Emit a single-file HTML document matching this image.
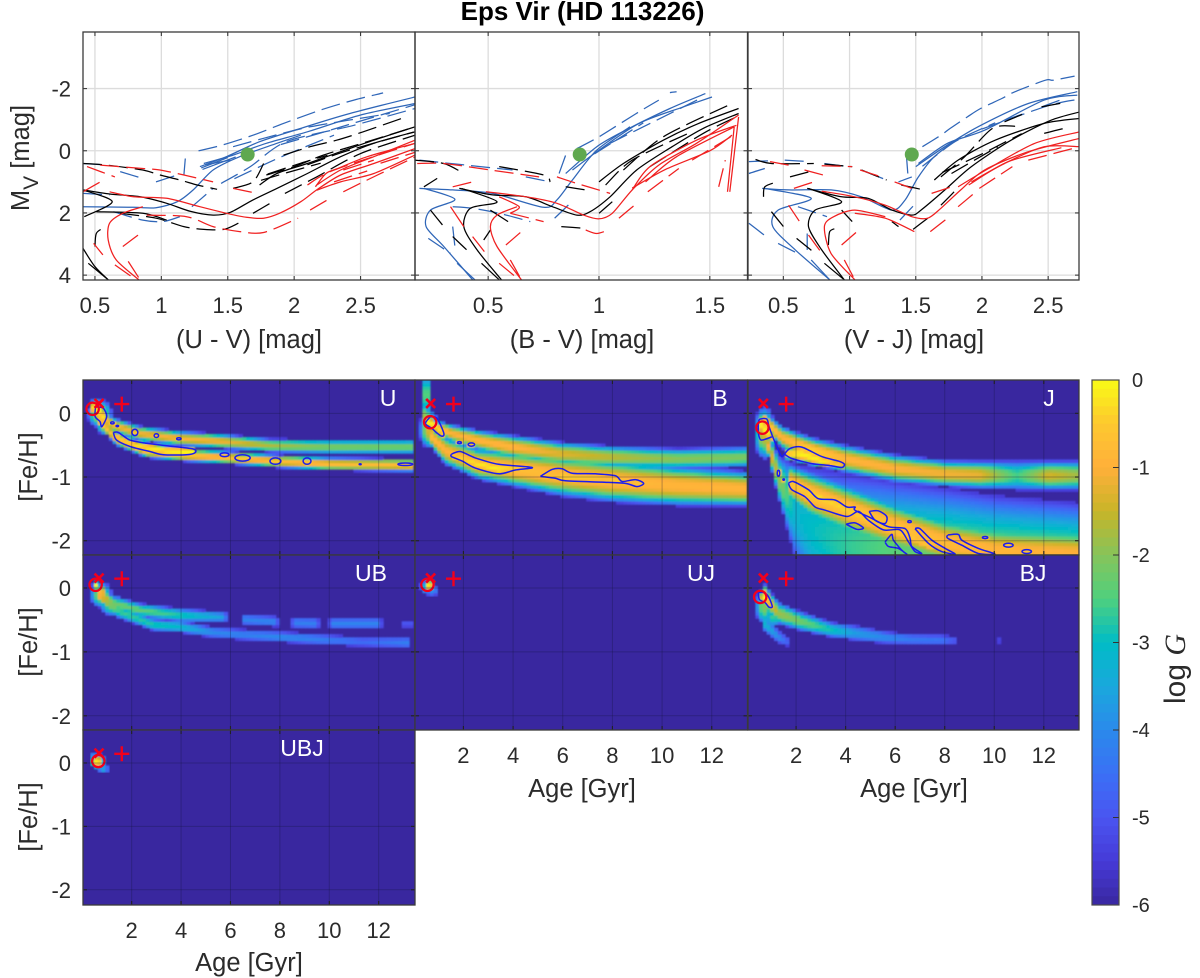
<!DOCTYPE html>
<html lang="en">
<head>
<meta charset="utf-8">
<title>Eps Vir (HD 113226)</title>
<style>
html,body{margin:0;padding:0;background:#fff;}
#chart{display:block;width:1200px;height:978px;font-family:"Liberation Sans",Arial,sans-serif;fill:#2b2b2b;}
</style>
</head>
<body>
<svg id="chart" xmlns="http://www.w3.org/2000/svg" width="1200" height="978" viewBox="0 0 1200 978">
  <defs>
    <filter id="soft" x="-2%" y="-2%" width="104%" height="104%"><feGaussianBlur stdDeviation="0.8"/></filter>
  </defs>
  <rect x="0" y="0" width="1200" height="978" fill="#ffffff"/>
  <text x="582.5" y="20" text-anchor="middle" font-size="26" font-weight="700" fill="#000">Eps Vir (HD 113226)</text>
  <g id="layer"></g>
  <text x="249" y="348" text-anchor="middle" font-size="25.5">(U - V) [mag]</text>
  <text x="582" y="348" text-anchor="middle" font-size="25.5">(B - V) [mag]</text>
  <text x="914" y="348" text-anchor="middle" font-size="25.5">(V - J) [mag]</text>
  <text transform="translate(29,158) rotate(-90)" text-anchor="middle" font-size="25.5">M<tspan font-size="21" dy="9">V</tspan><tspan dy="-9"> [mag]</tspan></text>
  <text transform="translate(37,467) rotate(-90)" text-anchor="middle" font-size="25.5">[Fe/H]</text>
  <text transform="translate(37,642) rotate(-90)" text-anchor="middle" font-size="25.5">[Fe/H]</text>
  <text transform="translate(37,817) rotate(-90)" text-anchor="middle" font-size="25.5">[Fe/H]</text>
  <text x="249" y="971" text-anchor="middle" font-size="25.5">Age [Gyr]</text>
  <text x="582" y="797" text-anchor="middle" font-size="25.5">Age [Gyr]</text>
  <text x="914" y="797" text-anchor="middle" font-size="25.5">Age [Gyr]</text>
  <text transform="translate(1185,669) rotate(-90)" text-anchor="middle" font-size="30">log <tspan font-family="'Liberation Serif',serif" font-style="italic">G</tspan></text>
</svg>
<script>
/* ---------- axis tick values ---------- */
const uvTicks = [0.5, 1, 1.5, 2, 2.5];
const bvTicks = [0.5, 1, 1.5];
const vjTicks = [0.5, 1, 1.5, 2, 2.5];
const mvTicks = [-2, 0, 2, 4];
const ageTicks = [2, 4, 6, 8, 10, 12];
const fehTicks = [0, -1, -2];
const colorTicks = [0, -1, -2, -3, -4, -5, -6];

/* ---------- observed star colours and magnitude ---------- */
const starUV = [1.65, 0.12];
const starBV = [0.913, 0.12];
const starVJ = [1.47, 0.12];

/* ---------- isochrones: flat colour, Mv pairs ---------- */
const uvBlueSolid = [
 [1.29,.51,1.49,.19,1.74,-.29,2.05,-.72,2.42,-1.2,2.91,-1.73],
 [1.32,.41,1.54,.14,1.79,-.24,2.1,-.61,2.5,-1.15,2.91,-1.52],
 [.41,1.8,.79,1.82,.96,1.83,1.12,1.64,1.24,1.26,1.39,.62,1.59,.19,1.87,-.24,2.05,-.5],
 [1.3,.55,1.5,.22],[1.33,.45,1.52,.3],[1.31,.6,1.56,.2]
];
const uvBlueDash = [
 [1.28,0,1.44,-.16,1.69,-.5,1.92,-.88,2.2,-1.31,2.45,-1.63,2.67,-1.86],
 [1.54,-.13,1.77,-.4,2.12,-.77,2.72,-1.2],
 [1.45,1.05,1.67,.51,1.94,-.29,2.45,-.82,2.91,-1.36],
 [1.55,.9,1.9,.2,2.3,-.5],[1.9,-.2,2.3,-.7,2.91,-1.48],
 [.41,.41,.59,.46],[.69,.67,.86,.89],[.96,1,1.12,.78],[1.18,.25,1.17,.78],
 [1.23,1.8,1.39,1.21],[.41,1.37,.61,1.42],[.64,1.96,.86,2.23,1.01,2.28,1.14,2.12]
];
const uvBlackSolid = [
 [.41,1.26,.61,1.39,.84,1.48,1.04,1.69,1.22,1.95,1.39,2.07,1.52,1.98,1.69,1.58,1.87,1.21,2.1,.73,2.35,.19,2.6,-.24,2.91,-.61],
 [1.74,1.1,1.87,.73,2.1,.41,2.35,.03,2.6,-.34,2.91,-.77],
 [.41,1.26,.63,1.64,.42,2.12],[.51,1.96,.86,2.01,1.04,2.23],
 [.41,3.14,.5,3.73,.6,4.15],[.45,3.62,.6,4.15]
];
const uvBlackDash = [
 [.41,.41,.59,.46,.86,.62,.99,.78,1.14,.94,1.27,1.1,1.42,1.24],
 [1.54,1.21,1.69,1,1.77,.41],
 [1.92,.14,2.12,-.13,2.32,-.34,2.52,-.61,2.81,-1.04],
 [1.79,.78,2,.51,2.22,.14,2.55,-.29,2.91,-.77],
 [1.69,2.01,1.84,1.64],
 [1.93,1.37,2.17,.84,2.5,.09,2.91,-.5],
 [1.8,.75,2.05,.4,2.25,.15],[1.75,.95,1.95,.7,2.2,.4],[2.1,.45,2.4,0,2.9,-.6],
 [.69,2.01,.96,2.17,1.17,2.44,1.32,2.53,1.47,2.53,1.58,2.33],
 [.5,3.08,.51,2.66,.56,2.49]
];
const uvRedSolid = [
 [.83,4.15,.66,3.51,.6,2.87,.61,2.33,.71,2.01,.86,1.8],
 [.61,1.32,.79,1.48,1.04,1.53,1.29,1.8,1.49,2.01,1.64,2.14,1.77,2.17,1.89,2.01,2.05,1.64,2.17,1.26,2.35,.78,2.6,.41,2.91,-.07],
 [2.17,1.1,2.35,.62,2.6,.19,2.91,-.34],
 [2.16,1.16,2.24,.73,2.33,.57,2.55,.19,2.91,-.24],
 [2.17,1.27,2.35,1,2.6,.73,2.91,.14]
];
const uvRedDash = [
 [.54,.46,.86,.57,.99,.62,1.17,.78,1.39,1],
 [.44,.51,.65,.84],[1.54,1.21,1.72,1.37],
 [.89,2.07,1.19,2.12,1.39,2.44,1.59,2.6,1.77,2.63,2.03,2.17],
 [2.12,1.91,2.27,1.53],[.71,3.08,.85,2.63],[.65,3.67,.81,4.15],[.75,3.56,.84,4.15],
 [.49,2.98,.56,3.35],[.41,1.32,.54,1],[2.1,1.1,2.3,.62,2.91,-.24],[2.37,1.32,2.55,.94,2.91,.2],
 [2.37,.62,2.6,.3],[2.65,.4,2.91,.05],[2.3,1,2.55,.65]
];

const bvBlueSolid = [
 [.85,.73,.99,-.13,1.12,-.66,1.32,-1.36,1.48,-1.84],
 [.88,.62,1,-.02,1.18,-.88,1.38,-1.41,1.51,-1.73],
 [.19,1.21,.34,1.26,.52,1.37,.75,1.82,.81,1.58,.88,.94,.99,-.02,1.14,-.77],
 [.21,1.21,.35,1.56,.24,1.91,.22,2.44,.3,3.08,.43,4.15],
 [.36,3.62,.44,4.15]
];
const bvBlueDash = [
 [.9,-.07,1,-.45,1.18,-1.25,1.27,-1.63],[1.32,-1.87,1.35,-1.9],
 [.19,.3,.33,.41,.61,.62],[.67,.84,.78,1],[.82,.73,.85,.14],
 [.34,1.8,.43,1.85,.55,2.01,.69,2.28],[.8,2.17,.87,1.69],[.23,2.82,.33,3.3],
 [.34,2.44,.35,3.08],[1.05,-.24,1.47,-1.73],[.98,.1,1.2,-.9]
];
const bvBlackSolid = [
 [.37,1.21,.52,1.42,.67,1.48,.79,1.8,.9,2.07,.96,1.96,1.05,1.48,1.17,.62,1.33,-.13,1.47,-.72,1.63,-1.2],
 [1,1,1.11,.41,1.29,-.34,1.45,-.88,1.63,-1.36],
 [.38,1.21,.54,1.64,.42,1.85,.39,2.44,.45,3.19,.56,4.15],
 [.51,1.91,.59,2.28],[.47,3.62,.55,4.15]
];
const bvBlackDash = [
 [.17,.3,.3,.41,.39,.73],[.55,.51,.75,.78,.78,1],[.85,1.16,.94,1.26],[1,2.01,1.06,1.64],
 [.24,1.91,.3,2.44],[.21,1.16,.27,.89],[.83,2.44,.93,2.49],
 [1.11,.62,1.29,-.45,1.6,-1.52],[1.23,.51,1.47,-.56,1.62,-1.09],
 [.34,2.76,.42,3.3],[.48,2.87,.51,2.55],[1.03,1.1,1.15,.3,1.4,-.55]
];
const bvRedSolid = [
 [.49,1.32,.67,1.48,.81,1.69,.93,2.07,1,2.19,1.06,2.01,1.15,1.26,1.27,.46,1.44,-.24,1.63,-1.15],
 [.65,4.15,.54,3.08,.51,2.44,.54,2.07,.63,1.8],
 [1.15,1.26,1.23,.51,1.44,-.34,1.62,-.82],
 [1.21,1,1.35,.19,1.61,-.77],
 [1.15,1.2,1.3,.6,1.5,0,1.6,-.5],
 [1.63,-1.09,1.59,1.32],[1.61,-.77,1.58,1.32],
 [.33,1.8,.39,2.44],[.55,1.48,.64,1.8,.6,2.01]
];
const bvRedDash = [
 [.18,.41,.3,.41,.51,.62,.73,.84],[.81,.84,.9,1.05,1.05,1.37],[.34,1.16,.43,1],
 [1.09,2.17,1.17,1.69],[.6,2.01,.75,2.28],[.94,2.55,.99,2.66,1.05,2.53],
 [.58,3.03,.65,2.6],[.43,2.76,.5,3.4],[.55,3.62,.64,4.15],[.6,3.51,.65,4.15],
 [1.22,1.32,1.36,.57],[1.54,1.16,1.57,.3],[1.42,.3,1.62,-.56]
];

const vjBlueSolid = [
 [1.5,.51,1.72,-.13,1.97,-.77,2.35,-1.52,2.72,-1.9],
 [1.52,.41,1.74,-.24,2.02,-.66,2.47,-1.63,2.72,-1.79],
 [.34,1.21,.54,1.26,.86,1.26,1.09,1.48,1.32,1.91,1.42,1.58,1.52,.84,1.64,.19,1.84,-.45],
 [.36,1.21,.71,1.53,.46,1.91,.42,2.44,.59,3.19,.85,4.15],
 [.71,3.51,.85,4.15]
];
const vjBlueDash = [
 [1.55,-.13,1.69,-.5,1.76,-.72,1.89,-1.09,1.99,-1.36,2.15,-1.68,2.25,-1.9,2.48,-2.27,2.54,-2.27,2.7,-2.4],
 [.24,.73,.36,.57],[.24,.35,.41,.32],[.24,2.33,.37,2.76],[.46,2.98,.63,3.35],
 [.68,2.66,.68,3.19],[1.38,2.23,1.5,1.69],[1.43,.19,1.44,.73],[.61,1.8,.83,2.12],
 [1.37,1,1.47,.84],[.51,.3,.69,.35],[.81,.41,.99,.51],[1.12,.67,1.28,.94],
 [2.45,-1.41,2.59,-1.63],[2.17,-.98,2.32,-1.2],[1.55,.5,1.8,-.3,2.1,-.9],[2,-.7,2.5,-1.45,2.72,-1.65]
];
const vjBlackSolid = [
 [.68,1.21,.94,1.48,1.14,1.53,1.32,1.91,1.47,2.07,1.54,1.91,1.72,1.26,1.92,.51,2.22,-.34,2.52,-.98,2.74,-1.25],
 [1.64,.94,1.82,.3,2.1,-.34,2.47,-.88,2.74,-1.04],
 [.69,1.21,.94,1.64,.74,1.91,.69,2.44,.79,3.19,.96,4.15],
 [.81,3.62,.96,4.15],[.94,1.91,1.02,2.28]
];
const vjBlackDash = [
 [.29,.28,.41,.41,.73,.41],[.81,.43,1.02,.51],[1.09,.62,1.28,.94],[.55,.84,.7,.67],
 [.35,1.48,.36,1.16,.45,1],[.41,1.96,.51,2.49],[.6,2.82,.74,3.3],[.84,3.03,.85,2.6,.9,2.49],
 [1.39,1.1,1.54,1.24],[1.32,2.28,1.37,2.44],[1.48,2.53,1.59,2.17],[1.69,1.75,1.79,1.32],
 [1.69,.84,1.87,.19,2.08,-.72,2.25,-.79],[1.77,.73,2.12,-.13],[2.47,-.56,2.62,-.72],
 [2.17,-.93,2.32,-1.2],[2.45,-1.41,2.61,-1.54],[1.7,.7,2,.1,2.3,-.55]
];
const vjRedSolid = [
 [.79,1.3,1.04,1.48,1.27,1.75,1.47,2.12,1.59,2.17,1.69,1.85,1.84,1.26,2.02,.62,2.35,.03,2.74,-.4],
 [1.04,4.15,.86,3.3,.81,2.44,.88,2.12,1.04,1.91,1.27,2.12],
 [1.82,1.16,2.05,.57,2.4,-.24,2.74,-.61],
 [1.92,1,2.17,.41,2.47,-.13,2.74,-.13],
 [1.9,1.1,2.2,.35,2.6,-.1],
 [1.04,2.01,1.27,2.17,1.49,2.6]
];
const vjRedDash = [
 [.4,.35,.54,.46],[.79,.48,1.02,.51],[1.08,.62,1.24,.84],[1.34,1,1.47,1.21],[.66,.62,.8,.78],
 [.58,1.21,.73,1],[.54,1.75,.63,2.33],[.69,2.71,.8,3.35],[.94,3.03,1.07,2.55],[.96,3.51,1.04,4.15],
 [1.61,2.6,1.74,2.17],[1.82,1.8,1.94,1.37],[1.98,1.21,2.23,.51],[2.35,.3,2.74,-.13],[1.62,1.37,1.77,1.16]
];

/* ---------- colour scale: log G value and colour at the same index ---------- */
const scaleValues = [0,-.5,-1,-1.5,-2,-2.5,-3,-3.5,-4,-4.5,-5,-5.5,-6];
const scaleReds   = [249,253,255,200,134,79,0,26,43,58,74,70,57];
const scaleGreens = [251,200,176,180,196,208,188,168,138,112,85,58,39];
const scaleBlues  = [21,47,58,40,90,126,198,220,235,245,240,216,159];

/* ---------- likelihood ridges: rows of age, [Fe/H], half-width, peak log G ---------- */
const uUpper = [[.4,.1,.1,-.4],[.45,.05,.12,-.4],[1.26,-.18,.1,-1.1],[2.34,-.31,.1,-1.1],[3.95,-.39,.1,-1],[5.57,-.43,.1,-1.1],[7.6,-.5,.09,-1.7],[10,-.52,.1,-2.1],[13.4,-.52,.1,-2.2]];
const uLower = [[.58,-.08,.08,-.5],[1.39,-.39,.1,-.8],[2.6,-.58,.1,-.6],[4.2,-.65,.09,-.6],[5.57,-.68,.09,-.8],[8,-.75,.09,-.8],[10,-.79,.09,-.8],[13.45,-.81,.09,-.8]];
const uHot = [[1.39,-.36,.08,-.5],[1.93,-.47,.08,-.4],[2.61,-.53,.08,-.2],[3.42,-.58,.08,-.05],[4.49,-.6,.08,0]];
const uTip = [[.45,.1,.14,-.1],[.7,.05,.14,-.05],[.9,-.08,.12,-.3],[1,-.15,.09,-1]];
const uBlobs = [[.7,0,.5,.22,-1.3],[1,-.18,.45,.16,-1.2]];

const bUpper = [[.74,-.18,.08,-.5],[1.54,-.31,.12,-1],[2.62,-.42,.14,-.9],[3.96,-.52,.16,-.9],[5.97,-.63,.16,-1.3],[7.99,-.68,.15,-1.6],[10.67,-.71,.14,-2],[13.45,-.68,.14,-2.1]];
const bLower = [[.6,-.31,.15,-.7],[1.28,-.58,.2,-1],[2.62,-.79,.22,-.7],[3.96,-.86,.25,-.7],[5.97,-.97,.29,-.8],[7.99,-1.05,.3,-.8],[10.67,-1.13,.28,-.9],[13.45,-1.18,.24,-.9]];
const bColumn = [[.33,.3,.28,-2.5],[.62,.3,.28,-2.5]];
const bStem = [[.42,-.05,.2,-1.8],[.75,-.2,.2,-1.2]];
const bTip = [[.55,-.12,.11,0],[.9,-.2,.1,-.2],[1.2,-.33,.07,-.4]];
const bHotA = [[1.55,-.66,.08,-.5],[2.5,-.78,.1,-.2],[3.42,-.87,.1,-.1],[4.7,-.85,.03,-.8]];
const bHotB = [[5.2,-.99,.05,-.7],[6,-.98,.11,-.4],[7.3,-1.01,.08,-.5],[8.3,-1.05,.07,-.5],[9.2,-1.1,.05,-.6]];
const bBlobs = [[.62,-.25,.4,.3,-1.3]];

const jUpper = [[.61,-.05,.1,-.3],[1.42,-.37,.15,-1],[2.63,-.58,.18,-.4],[3.98,-.71,.19,-.9],[6,-.86,.19,-1],[8.02,-.94,.18,-1.1],[9.4,-.96,.19,-1.2],[10.9,-.97,.2,-2.6],[12.2,-.97,.2,-1.4],[13.45,-.97,.2,-1.8]];
const jWedge = [[.75,-.35,.12,-.8],[1.29,-.99,.29,-1.8],[1.96,-1.53,.64,-3.2],[2.63,-1.81,.84,-3],[3.98,-2.07,.99,-2.7],[6,-2.13,.93,-2.4],[8.02,-2.18,.88,-2.3],[10.03,-2.24,.83,-2.3],[13.45,-2.29,.77,-2.3]];
const jRidge = [[1.69,-1.07,.25,-.7],[2.63,-1.28,.33,-.6],[3.98,-1.49,.35,-.6],[6,-1.78,.35,-.7],[8.02,-2.02,.35,-.8],[10.03,-2.15,.35,-.9],[13.45,-2.2,.35,-1]];
const jTip = [[.5,-.1,.13,-.2],[.65,-.22,.16,0],[.9,-.3,.13,-.2],[1.1,-.42,.06,-1.2]];
const jHotA = [[1.55,-.62,.08,-.4],[2.2,-.63,.13,-.05],[3,-.73,.1,-.1],[3.9,-.82,.05,-.7]];
const jHotB = [[1.75,-1.12,.08,-.7],[2.9,-1.3,.12,-.3],[4,-1.5,.12,-.4],[5,-1.68,.12,-.5],[6,-1.85,.11,-.6],[7.5,-2.08,.12,-.6]];
const jBlobs = [[.72,-.3,.42,.42,-1.3]];

const ubUpper = [[.58,-.03,.1,-.5],[1.26,-.23,.1,-2.2],[2.34,-.34,.09,-2.3],[3.95,-.42,.09,-2.8],[5.7,-.45,.07,-3.6],[5.95,-.46,.06,-5.6],[6.4,-.48,.06,-5.6],[6.55,-.49,.07,-4.1],[7.8,-.52,.07,-4.1],[8,-.53,.06,-5.6],[8.4,-.54,.06,-5.6],[8.6,-.54,.07,-4.2],[9.45,-.55,.07,-4.2],[9.65,-.55,.06,-5.6],[9.95,-.55,.06,-5.6],[10.1,-.55,.07,-4.1],[12,-.55,.07,-4.1],[12.15,-.55,.06,-5.6],[12.9,-.56,.06,-5.6],[13,-.56,.04,-5],[13.45,-.56,.04,-5]];
const ubLower = [[.58,-.08,.1,-.6],[1.39,-.34,.1,-2.6],[2.88,-.57,.08,-2.8],[3.95,-.6,.08,-3.1],[5.3,-.69,.07,-4],[6.65,-.73,.07,-4.2],[8,-.76,.07,-4],[9.6,-.8,.07,-4.2],[11.37,-.84,.06,-4.6],[13.25,-.85,.07,-4.2]];
const ubBlobs = [[.56,.05,.16,.07,0],[.8,-.04,.2,.1,-.9],[.75,-.1,.45,.2,-1.8],[1.25,-.27,.55,.16,-2.1]];

const bjMain = [[.68,.03,.08,-2.5],[.75,-.13,.15,-.4],[1.29,-.39,.15,-1.8],[2.23,-.52,.13,-2.2],[3.44,-.65,.1,-2.9],[4.38,-.7,.1,-3.7],[5.59,-.77,.08,-4],[6.67,-.8,.07,-4.3],[7.88,-.81,.07,-4.4],[8.42,-.82,.05,-5]];
const bjLow = [[.61,-.5,.12,-3],[1.29,-.76,.08,-4],[1.76,-.86,.05,-5]];
const bjBlobs = [[.72,-.14,.26,.12,0],[.95,-.24,.14,.07,-.3],[.72,-.28,.38,.28,-2],[1.1,-.45,.4,.15,-2.6],[10.13,-.82,.1,.04,-5.2]];

const ujBlobs = [[.72,-.03,.3,.09,-4],[.45,.02,.2,.1,-3.2],[.62,.05,.24,.1,0]];
const ubjBlobs = [[.42,.07,.16,.1,-3.5],[.61,.03,.32,.12,-.05],[.85,-.09,.22,.07,-3.5]];

/* ---------- contour rings: age, [Fe/H] pairs ---------- */
const uContours = [
 [1.26,-.3,1.46,-.3,1.93,-.42,2.61,-.47,3.42,-.51,4.49,-.56,4.56,-.62,4.22,-.65,3.28,-.65,2.74,-.6,1.93,-.52,1.39,-.42,1.26,-.3],
 [.54,.1,.85,.08,.99,-.05,.79,-.21,.72,-.13,.52,-.05,.54,.1]
];
const bContours = [
 [.67,-.05,.94,-.08,1.21,-.31,1.14,-.36,.94,-.31,.74,-.24,.47,-.16,.67,-.05],
 [1.52,-.64,1.88,-.6,2.48,-.7,3.42,-.8,4.77,-.85,4.09,-.89,3.42,-.95,2.48,-.86,1.95,-.75,1.52,-.68,1.52,-.64],
 [5.1,-.99,5.57,-.88,5.97,-.87,6.38,-.94,7.32,-.95,8.12,-.98,8.39,-1.07,8.93,-1.04,9.26,-1.1,8.99,-1.15,8.52,-1.1,7.58,-1.08,6.11,-1.06,5.7,-1.02,5.1,-.99]
];
const jContours = [
 [.48,-.13,.55,-.09,.82,-.09,.91,-.21,1.08,-.39,1.29,-.58,1.42,-.68,1.53,-.64,1.76,-.55,2.23,-.53,3.04,-.68,3.71,-.75,3.95,-.8,3.84,-.85,3.37,-.82,2.63,-.79,1.83,-.71,1.53,-.64],
 [.48,-.13,.48,-.31,.59,-.42,1.02,-.37],
 [1.69,-1.1,1.89,-1.07,2.5,-1.2,2.9,-1.34,3.57,-1.36,4.05,-1.47,4.38,-1.47,4.38,-1.52,5.06,-1.65,5.73,-1.78,6.4,-1.81,6.6,-1.96,6.67,-2.09,7.07,-2.2,6.8,-2.17,6.54,-2.02,6.2,-1.83,5.53,-1.83,4.92,-1.68,4.52,-1.54,4.05,-1.62,3.17,-1.52,2.77,-1.47,2.36,-1.31,1.83,-1.2,1.69,-1.1],
 [4.95,-1.54,5.32,-1.53,5.66,-1.62,5.59,-1.73,5.19,-1.68,4.95,-1.54],
 [4.02,-1.74,4.38,-1.72,4.72,-1.8,4.45,-1.82,4.02,-1.74],
 [5.59,-2.02,5.86,-1.9,5.93,-1.99,6.27,-2.15,6.47,-2.21,6.13,-2.12,5.73,-2.09,5.59,-2.02],
 [6.8,-1.81,7,-1.81,7.48,-1.99,8.02,-2.12,8.42,-2.21,7.88,-2.17,7.34,-2.04,6.8,-1.81],
 [8.12,-1.91,8.55,-1.9,8.69,-1.99,9.36,-2.12,10.03,-2.21,9.36,-2.2,8.69,-2.07,8.12,-1.96,8.12,-1.91]
];
const bjContours = [
 [.48,-.07,.68,-.07,.88,-.13,1.04,-.29,.91,-.3,.75,-.23,.52,-.18,.48,-.07]
];

/* ---------- contour islands: age, [Fe/H], age radius, [Fe/H] radius ---------- */
const uIslands = [[2.13,-.3,.12,.05],[3,-.35,.09,.03],[3.91,-.4,.09,.016],[1.22,-.15,.07,.016],[1.42,-.2,.05,.01],[5.76,-.65,.18,.03],[6.49,-.7,.31,.05],[7.82,-.75,.22,.05],[9.1,-.75,.16,.05],[11.25,-.8,.04,.008],[13.08,-.8,.3,.02]];
const bIslands = [[1.84,-.46,.08,.016],[2.32,-.49,.13,.026]];
const jIslands = [[1.29,-.94,.05,.047],[1.5,-1.04,.03,.01],[6.58,-1.7,.07,.016],[9.63,-1.95,.11,.016],[10.57,-2.07,.19,.03],[11.31,-2.17,.19,.03]];
const noIslands = [];

/* ---------- best-fit circle, x and plus markers: age, [Fe/H] ---------- */
const uBest = [.42,.07];
const bBest = [.66,-.14];
const jBest = [.64,-.225];
const ubBest = [.54,.05];
const ujBest = [.55,.05];
const bjBest = [.55,-.14];
const ubjBest = [.65,.03];
const crossMark = [.68,.155];
const plusMark = [1.6,.145];

/* ---------- helpers ---------- */
const layer = document.getElementById('layer');
const NS = 'http://www.w3.org/2000/svg';
function mk(tag, parent, attrs) {
  const el = document.createElementNS(NS, tag);
  for (const k in attrs) el.setAttribute(k, attrs[k]);
  parent.appendChild(el);
  return el;
}
function linear(d0, d1, r0, r1) {
  return v => r0 + (v - d0) * (r1 - r0) / (d1 - d0);
}
function smoothPath(tr, sx, sy) {
  const pts = [];
  for (let i = 0; i < tr.length; i += 2) pts.push([sx(tr[i]), sy(tr[i + 1])]);
  let d = 'M' + pts[0][0].toFixed(1) + ' ' + pts[0][1].toFixed(1);
  for (let i = 0; i < pts.length - 1; i++) {
    const p0 = pts[Math.max(0, i - 1)], p1 = pts[i], p2 = pts[i + 1], p3 = pts[Math.min(pts.length - 1, i + 2)];
    const k = 1 / 7;
    d += 'C' + (p1[0] + (p2[0] - p0[0]) * k).toFixed(1) + ' ' + (p1[1] + (p2[1] - p0[1]) * k).toFixed(1) + ' ' +
         (p2[0] - (p3[0] - p1[0]) * k).toFixed(1) + ' ' + (p2[1] - (p3[1] - p1[1]) * k).toFixed(1) + ' ' +
         p2[0].toFixed(1) + ' ' + p2[1].toFixed(1);
  }
  return d;
}
function colorOf(v) {
  if (v >= 0) return 'rgb(' + scaleReds[0] + ',' + scaleGreens[0] + ',' + scaleBlues[0] + ')';
  let i = 0;
  while (i < scaleValues.length - 2 && v < scaleValues[i + 1]) i++;
  const t = Math.min(1, (scaleValues[i] - v) / (scaleValues[i] - scaleValues[i + 1]));
  const mix = a => Math.round(a[i] + (a[i + 1] - a[i]) * t);
  return 'rgb(' + mix(scaleReds) + ',' + mix(scaleGreens) + ',' + mix(scaleBlues) + ')';
}
function frame(g, b, sx, sy, xt, yt, tickColor) {
  xt.forEach(t => {
    const top = mk('line', g, {x1: sx(t), x2: sx(t), y1: b.t, y2: b.t + 4, stroke: tickColor, 'stroke-width': 1.1});
    
    
    const bot = mk('line', g, {x1: sx(t), x2: sx(t), y1: b.b, y2: b.b - 4, stroke: tickColor, 'stroke-width': 1.1});
    
    
  });
  yt.forEach(t => {
    const lf = mk('line', g, {x1: b.l, x2: b.l + 4, y1: sy(t), y2: sy(t), stroke: tickColor, 'stroke-width': 1.1});
    
    
    const rt = mk('line', g, {x1: b.r, x2: b.r - 4, y1: sy(t), y2: sy(t), stroke: tickColor, 'stroke-width': 1.1});
    
    
  });
  const box = mk('rect', g, {x: b.l, y: b.t, width: b.r - b.l, height: b.b - b.t, fill: 'none', stroke: '#3a3a3a', 'stroke-width': 1.3});
  
  
}
function labelText(g, x, y, str, anchor, size) {
  const el = mk('text', g, {x: x, y: y, 'text-anchor': anchor, 'font-size': size});
  el.textContent = str;
  
  
  return el;
}

/* ---------- colour-magnitude panels ---------- */
function drawCmd(name, box, dom, xt, star, groups, showY) {
  const g = mk('g', layer, {});
  
  
  const sx = linear(dom[0], dom[1], box.l, box.r);
  const sy = linear(-3.82, 4.157, box.t, box.b);
  const clip = mk('clipPath', g, {id: 'clip-' + name});
  mk('rect', clip, {x: box.l, y: box.t, width: box.r - box.l, height: box.b - box.t});
  xt.forEach(t => {
    const gl = mk('line', g, {x1: sx(t), x2: sx(t), y1: box.t, y2: box.b, stroke: '#dcdcdc', 'stroke-width': 1.3});
    
    
  });
  mvTicks.forEach(t => {
    const gl = mk('line', g, {x1: box.l, x2: box.r, y1: sy(t), y2: sy(t), stroke: '#dcdcdc', 'stroke-width': 1.3});
    
    
  });
  const lines = mk('g', g, {'clip-path': 'url(#clip-' + name + ')', fill: 'none'});
  
  
  groups.forEach(grp => {
    grp.tracks.forEach(tr => {
      const p = mk('path', lines, {d: smoothPath(tr, sx, sy), stroke: grp.color, 'stroke-width': 1.25, 'stroke-linejoin': 'round'});
      if (grp.dash) p.setAttribute('stroke-dasharray', '19 7');
      
      
    });
  });
  const dot = mk('circle', g, {cx: sx(star[0]), cy: sy(star[1]), r: 7, fill: '#5fa84f'});
  
  
  frame(g, box, sx, sy, xt, mvTicks, '#3a3a3a');
  xt.forEach(t => labelText(g, sx(t), 313, String(t), 'middle', 22));
  if (showY) mvTicks.forEach(t => labelText(g, 71, sy(t) + 8, String(t), 'end', 22));
}
function cmdGroups(bs, bd, ks, kd, rs, rd) {
  return [
    {tracks: bs, color: '#2f66b8', dash: false, label: 'blue-isochrone-solid'},
    {tracks: bd, color: '#2f66b8', dash: true, label: 'blue-isochrone-dashed'},
    {tracks: ks, color: '#000000', dash: false, label: 'black-isochrone-solid'},
    {tracks: kd, color: '#000000', dash: true, label: 'black-isochrone-dashed'},
    {tracks: rs, color: '#f02020', dash: false, label: 'red-isochrone-solid'},
    {tracks: rd, color: '#f02020', dash: true, label: 'red-isochrone-dashed'}
  ];
}
drawCmd('uv', {l:83,r:415,t:32,b:280}, [.41,2.91], uvTicks, starUV, cmdGroups(uvBlueSolid,uvBlueDash,uvBlackSolid,uvBlackDash,uvRedSolid,uvRedDash), true);
drawCmd('bv', {l:415,r:747.5,t:32,b:280}, [.17,1.67], bvTicks, starBV, cmdGroups(bvBlueSolid,bvBlueDash,bvBlackSolid,bvBlackDash,bvRedSolid,bvRedDash), false);
drawCmd('vj', {l:748,r:1079,t:32,b:280}, [.233,2.733], vjTicks, starVJ, cmdGroups(vjBlueSolid,vjBlueDash,vjBlackSolid,vjBlackDash,vjRedSolid,vjRedDash), false);

/* ---------- heat-map panels ---------- */
const AGE_STEP = 0.15, FEH_STEP = 0.05, FLOOR = -5.5, WIDTH_GAIN = 1.15, FALLOFF = 2.2;
function ridgeValue(knots, age, feh) {
  if (age < knots[0][0] || age > knots[knots.length - 1][0]) return -9;
  let i = 0;
  while (i < knots.length - 2 && age > knots[i + 1][0]) i++;
  const t = (age - knots[i][0]) / (knots[i + 1][0] - knots[i][0]);
  const at = c => knots[i][c] + (knots[i + 1][c] - knots[i][c]) * t;
  const d = Math.abs(feh - at(1)) / (at(2) * WIDTH_GAIN);
  if (d >= 1) return -9;
  const p = at(3);
  return p - (5.5 + p) * Math.pow(d, FALLOFF);
}
function blobValue(b, age, feh) {
  const a = (age - b[0]) / b[2], f = (feh - b[1]) / b[3];
  const r = Math.sqrt(a * a + f * f);
  if (r >= 1) return -9;
  return b[4] - (5.5 + b[4]) * Math.pow(r, FALLOFF);
}
function drawHeat(o) {
  const box = o.box;
  const g = mk('g', layer, {});
  
  
  const sx = linear(o.age[0], o.age[1], box.l, box.r);
  const sy = linear(o.feh[0], o.feh[1], box.t, box.b);
  const bg = mk('rect', g, {x: box.l, y: box.t, width: box.r - box.l, height: box.b - box.t, fill: '#39279f'});
  
  
  const clip = mk('clipPath', g, {id: 'hclip-' + o.name});
  mk('rect', clip, {x: box.l, y: box.t, width: box.r - box.l, height: box.b - box.t});
  const clipG = mk('g', g, {'clip-path': 'url(#hclip-' + o.name + ')'});
  const cells = mk('g', clipG, {filter: 'url(#soft)'});
  
  
  const w = Math.abs(sx(AGE_STEP) - sx(0)) + 0.6;
  const h = Math.abs(sy(0) - sy(FEH_STEP)) + 0.6;
  const cols = Math.ceil((o.age[1] - o.age[0]) / AGE_STEP);
  const rows = Math.ceil((o.feh[0] - o.feh[1]) / FEH_STEP);
  for (let ci = 0; ci < cols; ci++) {
    const a = o.age[0] + ci * AGE_STEP;
    for (let ri = 0; ri < rows; ri++) {
      const f = o.feh[1] + ri * FEH_STEP;
      const ca = a + AGE_STEP / 2, cf = f + FEH_STEP / 2;
      let v = -9;
      o.ridges.forEach(r => { v = Math.max(v, ridgeValue(r, ca, cf)); });
      o.blobs.forEach(b => { v = Math.max(v, blobValue(b, ca, cf)); });
      o.islands.forEach(b => {
        const ex = (ca - b[0]) / Math.max(b[2], AGE_STEP * .7), ey = (cf - b[1]) / Math.max(b[3], FEH_STEP * .7);
        if (ex * ex + ey * ey < 1) v = Math.max(v, -.6);
      });
      if (v <= FLOOR) continue;
      const c = mk('rect', cells, {x: sx(a).toFixed(1), y: (sy(f + FEH_STEP)).toFixed(1), width: w.toFixed(1), height: h.toFixed(1), fill: colorOf(v)});
      
      
    }
  }
  ageTicks.forEach(t => {
    const gl = mk('line', g, {x1: sx(t), x2: sx(t), y1: box.t, y2: box.b, stroke: '#15153a', 'stroke-opacity': .3, 'stroke-width': 1});
    
    
  });
  fehTicks.forEach(t => {
    const gl = mk('line', g, {x1: box.l, x2: box.r, y1: sy(t), y2: sy(t), stroke: '#15153a', 'stroke-opacity': .3, 'stroke-width': 1});
    
    
  });
  const cont = mk('g', clipG, {fill: 'none', stroke: '#1c1cf0', 'stroke-width': 1.5, 'stroke-linejoin': 'round'});
  
  
  o.contours.forEach(tr => {
    const p = mk('path', cont, {d: smoothPath(tr, sx, sy)});
    
    
  });
  o.islands.forEach(b => {
    const e = mk('ellipse', cont, {cx: sx(b[0]), cy: sy(b[1]), rx: Math.abs(sx(b[2]) - sx(0)), ry: Math.abs(sy(0) - sy(b[3]))});
    
    
  });
  const px = sx(plusMark[0]), py = sy(plusMark[1]);
  const plus = mk('path', clipG, {d: 'M' + (px - 7.5) + ' ' + py + 'H' + (px + 7.5) + 'M' + px + ' ' + (py - 7.5) + 'V' + (py + 7.5), stroke: '#f2001c', 'stroke-width': 2.4, fill: 'none'});
  
  
  const cx = sx(crossMark[0]), cy = sy(crossMark[1]);
  const cross = mk('path', clipG, {d: 'M' + (cx - 4.5) + ' ' + (cy - 4.5) + 'L' + (cx + 4.5) + ' ' + (cy + 4.5) + 'M' + (cx - 4.5) + ' ' + (cy + 4.5) + 'L' + (cx + 4.5) + ' ' + (cy - 4.5), stroke: '#f2001c', 'stroke-width': 2.6, fill: 'none'});
  
  
  const best = mk('circle', clipG, {cx: sx(o.best[0]), cy: sy(o.best[1]), r: 6.2, fill: 'none', stroke: '#f2001c', 'stroke-width': 2.2});
  
  
  const tag = mk('text', g, {x: o.tagX, y: box.t + 26, 'text-anchor': 'middle', 'font-size': 23, fill: '#ffffff'});
  tag.textContent = o.tag;
  
  
  frame(g, box, sx, sy, ageTicks, fehTicks, '#222222');
  if (o.showAge) ageTicks.forEach(t => labelText(g, sx(t), box.b + 33, String(t), 'middle', 22));
  if (o.showFeh) fehTicks.forEach(t => labelText(g, 71, sy(t) + 8, String(t), 'end', 22));
}
const col1 = {l: 83, r: 415, age: [.03, 13.47]};
const col2 = {l: 415, r: 747.5, age: [.05, 13.44]};
const col3 = {l: 748, r: 1079, age: [.06, 13.42]};
const row1 = {t: 380, b: 555, feh: [.523, -2.224]};
const row2 = {t: 555, b: 730, feh: [.516, -2.222]};
const row3 = {t: 730, b: 905, feh: [.52, -2.24]};
function place(c, r) { return {box: {l: c.l, r: c.r, t: r.t, b: r.b}, age: c.age, feh: r.feh}; }

drawHeat(Object.assign(place(col1, row1), {name: 'u', tag: 'U', tagX: 388, ridges: [uUpper, uLower, uHot, uTip], blobs: uBlobs, islands: uIslands, contours: uContours, best: uBest, showFeh: true, showAge: false}));
drawHeat(Object.assign(place(col2, row1), {name: 'b', tag: 'B', tagX: 720, ridges: [bUpper, bLower, bColumn, bStem, bTip, bHotA, bHotB], blobs: bBlobs, islands: bIslands, contours: bContours, best: bBest, showFeh: false, showAge: false}));
drawHeat(Object.assign(place(col3, row1), {name: 'j', tag: 'J', tagX: 1049, ridges: [jUpper, jWedge, jRidge, jTip, jHotA, jHotB], blobs: jBlobs, islands: jIslands, contours: jContours, best: jBest, showFeh: false, showAge: false}));
drawHeat(Object.assign(place(col1, row2), {name: 'ub', tag: 'UB', tagX: 371, ridges: [ubUpper, ubLower], blobs: ubBlobs, islands: noIslands, contours: [], best: ubBest, showFeh: true, showAge: false}));
drawHeat(Object.assign(place(col2, row2), {name: 'uj', tag: 'UJ', tagX: 701, ridges: [], blobs: ujBlobs, islands: noIslands, contours: [], best: ujBest, showFeh: false, showAge: true}));
drawHeat(Object.assign(place(col3, row2), {name: 'bj', tag: 'BJ', tagX: 1033, ridges: [bjMain, bjLow], blobs: bjBlobs, islands: noIslands, contours: bjContours, best: bjBest, showFeh: false, showAge: true}));
drawHeat(Object.assign(place(col1, row3), {name: 'ubj', tag: 'UBJ', tagX: 302, ridges: [], blobs: ubjBlobs, islands: noIslands, contours: [], best: ubjBest, showFeh: true, showAge: true}));

/* ---------- colour bar ---------- */
(function () {
  const g = mk('g', layer, {});
  
  
  const l = 1092, r = 1119, t = 380, b = 905;
  const sy = linear(0, -6, t, b);
  for (let i = 0; i < 60; i++) {
    const v = -i / 10;
    const s = mk('rect', g, {x: l, y: sy(v).toFixed(2), width: r - l, height: (sy(v - .1) - sy(v) + (i < 59 ? .5 : 0)).toFixed(2), fill: colorOf(v - .05)});
    
    
  }
  const box = mk('rect', g, {x: l, y: t, width: r - l, height: b - t, fill: 'none', stroke: '#4a4a4a', 'stroke-width': 1.2});
  
  
  colorTicks.forEach(v => {
    if (v !== 0 && v !== -6) {
      const k = mk('line', g, {x1: r - 6, x2: r, y1: sy(v), y2: sy(v), stroke: '#333', 'stroke-width': 1});
      
      
    }
    labelText(g, 1132, sy(v) + 7, String(v), 'start', 20);
  });
})();
</script>
</body>
</html>
